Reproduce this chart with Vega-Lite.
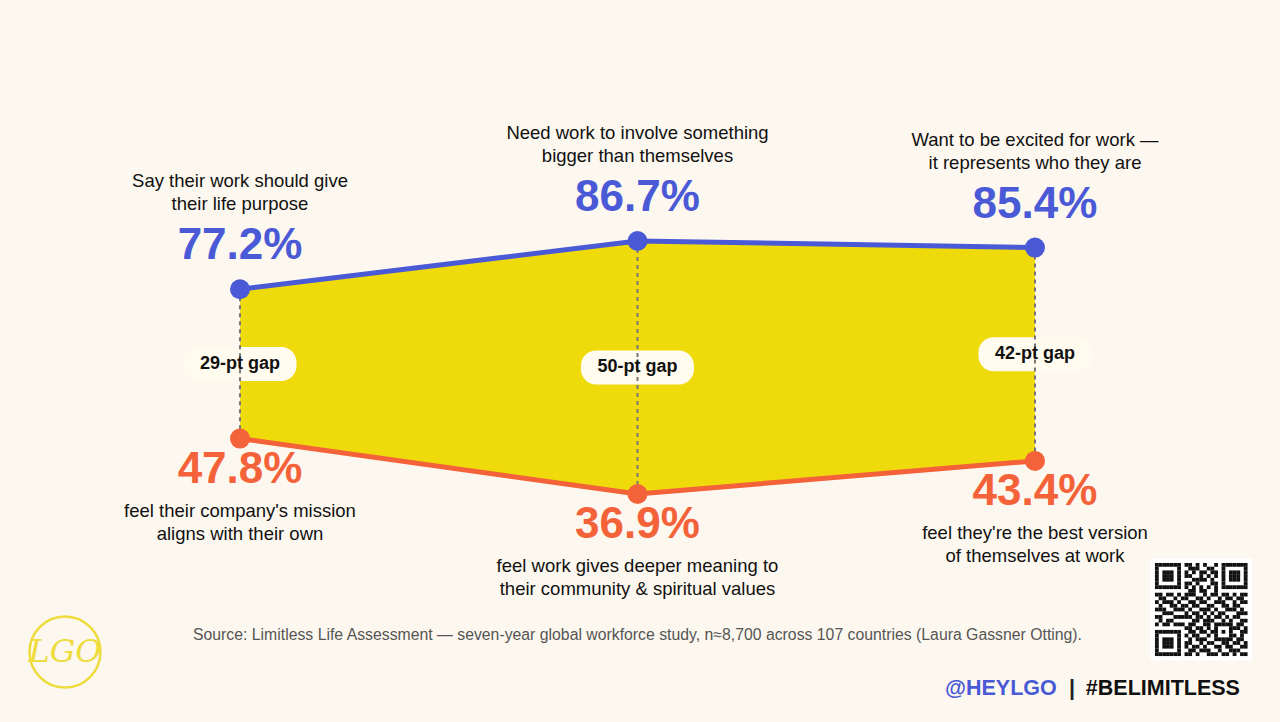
{
  "$schema": "https://vega.github.io/schema/vega-lite/v6.json",
  "width": 1280,
  "height": 722,
  "autosize": {"type": "fit", "contains": "padding"},
  "padding": 0,
  "background": "#fdf8ef",
  "config": {"view": {"stroke": null}, "font": "Liberation Sans", "axis": {"disable": true}, "legend": {"disable": true}},
  "datasets": {
    "main": [
      {"i": 1, "top": 77.2, "bot": 47.8, "mid": 62.5, "topPct": "77.2%", "botPct": "47.8%", "gap": "29-pt gap", "topLabel": "Say their work should give\ntheir life purpose", "botLabel": "feel their company's mission\naligns with their own"},
      {"i": 2, "top": 86.7, "bot": 36.9, "mid": 61.8, "topPct": "86.7%", "botPct": "36.9%", "gap": "50-pt gap", "topLabel": "Need work to involve something\nbigger than themselves", "botLabel": "feel work gives deeper meaning to\ntheir community & spiritual values"},
      {"i": 3, "top": 85.4, "bot": 43.4, "mid": 64.4, "topPct": "85.4%", "botPct": "43.4%", "gap": "42-pt gap", "topLabel": "Want to be excited for work —\nit represents who they are", "botLabel": "feel they're the best version\nof themselves at work"}
    ],
    "notes": [
      {"t": "Source: Limitless Life Assessment — seven-year global workforce study, n≈8,700 across 107 countries (Laura Gassner Otting)."}
    ],
    "qr": [
      {"r": 0, "c": [0,1,2,3,4,5,6,8,9,11,13,16,18,19,20,21,22,23,24]},
      {"r": 1, "c": [0,6,9,10,11,14,15,18,24]},
      {"r": 2, "c": [0,2,3,4,6,8,10,12,13,15,16,18,20,21,22,24]},
      {"r": 3, "c": [0,2,3,4,6,8,9,12,14,16,18,20,21,22,24]},
      {"r": 4, "c": [0,2,3,4,6,10,11,12,13,15,18,20,21,22,24]},
      {"r": 5, "c": [0,6,8,9,11,15,16,18,24]},
      {"r": 6, "c": [0,1,2,3,4,5,6,8,10,12,14,16,18,19,20,21,22,23,24]},
      {"r": 7, "c": [9,10,12,13,16]},
      {"r": 8, "c": [0,1,3,4,6,8,9,10,13,15,16,18,19,21,23,24]},
      {"r": 9, "c": [1,2,5,7,8,11,12,14,17,19,20,22,23]},
      {"r": 10, "c": [0,2,3,4,6,9,10,12,13,16,17,18,21,23,24]},
      {"r": 11, "c": [1,4,5,7,8,10,11,14,15,18,19,21,22]},
      {"r": 12, "c": [0,1,2,5,6,7,9,12,13,14,16,19,20,21,23]},
      {"r": 13, "c": [2,3,4,8,10,11,13,15,17,18,22,23,24]},
      {"r": 14, "c": [0,1,5,6,7,8,9,11,12,14,16,17,19,21,22]},
      {"r": 15, "c": [1,3,4,10,11,13,14,15,18,20,23,24]},
      {"r": 16, "c": [0,2,3,5,6,7,9,10,13,14,16,17,18,19,20,22,23]},
      {"r": 17, "c": [8,9,11,12,14,16,20,21,22,24]},
      {"r": 18, "c": [0,1,2,3,4,5,6,9,10,12,13,15,16,18,20,23,24]},
      {"r": 19, "c": [0,6,8,10,11,14,16,20,21,23]},
      {"r": 20, "c": [0,2,3,4,6,9,11,12,13,16,17,18,19,20,22,23]},
      {"r": 21, "c": [0,2,3,4,6,8,9,12,14,15,18,19,21,22,24]},
      {"r": 22, "c": [0,2,3,4,6,8,10,11,13,16,17,19,20,23,24]},
      {"r": 23, "c": [0,6,9,10,12,13,14,17,20,21,22]},
      {"r": 24, "c": [0,1,2,3,4,5,6,8,9,11,14,15,16,18,19,21,23,24]}
    ]
  },
  "layer": [
    {
      "data": {"name": "main"},
      "encoding": {
        "x": {"field": "i", "type": "quantitative", "scale": {"domain": [0.3962, 3.6164], "nice": false, "zero": false}, "axis": null}
      },
      "layer": [
        {
          "mark": {"type": "area", "color": "#efdb0c", "opacity": 1},
          "encoding": {
            "y": {"field": "top", "type": "quantitative", "scale": {"domain": [-7.99, 134.13], "nice": false, "zero": false}, "axis": null},
            "y2": {"field": "bot"}
          }
        },
        {
          "mark": {"type": "point", "shape": "M -0.735 -0.301 L 0.735 -0.301 A 0.265 0.265 0 0 1 1 -0.036 L 1 0.036 A 0.265 0.265 0 0 1 0.735 0.301 L -0.735 0.301 A 0.265 0.265 0 0 1 -1 0.036 L -1 -0.036 A 0.265 0.265 0 0 1 -0.735 -0.301 Z", "size": 12769, "filled": true, "color": "#fffbee", "opacity": 1, "strokeWidth": 0},
          "encoding": {
            "y": {"field": "mid", "type": "quantitative", "scale": {"domain": [-7.99, 134.13], "nice": false, "zero": false}, "axis": null}
          }
        },
        {
          "mark": {"type": "rule", "color": "#777777", "strokeDash": [4, 4], "strokeWidth": 2},
          "encoding": {
            "y": {"field": "top", "type": "quantitative", "scale": {"domain": [-7.99, 134.13], "nice": false, "zero": false}, "axis": null},
            "y2": {"field": "bot"}
          }
        },
        {
          "mark": {"type": "text", "fontSize": 18, "fontWeight": "bold", "color": "#111111", "baseline": "middle", "align": "center"},
          "encoding": {
            "y": {"field": "mid", "type": "quantitative", "scale": {"domain": [-7.99, 134.13], "nice": false, "zero": false}, "axis": null},
            "text": {"field": "gap"}
          }
        },
        {
          "mark": {"type": "line", "color": "#4a5ad6", "strokeWidth": 5},
          "encoding": {
            "y": {"field": "top", "type": "quantitative", "scale": {"domain": [-7.99, 134.13], "nice": false, "zero": false}, "axis": null}
          }
        },
        {
          "mark": {"type": "line", "color": "#f4623a", "strokeWidth": 5},
          "encoding": {
            "y": {"field": "bot", "type": "quantitative", "scale": {"domain": [-7.99, 134.13], "nice": false, "zero": false}, "axis": null}
          }
        },
        {
          "mark": {"type": "point", "shape": "circle", "size": 400, "filled": true, "color": "#4a5ad6", "opacity": 1},
          "encoding": {
            "y": {"field": "top", "type": "quantitative", "scale": {"domain": [-7.99, 134.13], "nice": false, "zero": false}, "axis": null}
          }
        },
        {
          "mark": {"type": "point", "shape": "circle", "size": 400, "filled": true, "color": "#f4623a", "opacity": 1},
          "encoding": {
            "y": {"field": "bot", "type": "quantitative", "scale": {"domain": [-7.99, 134.13], "nice": false, "zero": false}, "axis": null}
          }
        },
        {
          "mark": {"type": "text", "fontSize": 44, "fontWeight": "bold", "color": "#4a5ad6", "baseline": "middle", "align": "center", "dy": -43},
          "encoding": {
            "y": {"field": "top", "type": "quantitative", "scale": {"domain": [-7.99, 134.13], "nice": false, "zero": false}, "axis": null},
            "text": {"field": "topPct"}
          }
        },
        {
          "mark": {"type": "text", "fontSize": 18.5, "color": "#111111", "baseline": "middle", "align": "center", "dy": -108, "lineBreak": "\n", "lineHeight": 23},
          "encoding": {
            "y": {"field": "top", "type": "quantitative", "scale": {"domain": [-7.99, 134.13], "nice": false, "zero": false}, "axis": null},
            "text": {"field": "topLabel"}
          }
        },
        {
          "mark": {"type": "text", "fontSize": 44, "fontWeight": "bold", "color": "#f4623a", "baseline": "middle", "align": "center", "dy": 31},
          "encoding": {
            "y": {"field": "bot", "type": "quantitative", "scale": {"domain": [-7.99, 134.13], "nice": false, "zero": false}, "axis": null},
            "text": {"field": "botPct"}
          }
        },
        {
          "mark": {"type": "text", "fontSize": 18.5, "color": "#111111", "baseline": "middle", "align": "center", "dy": 72, "lineBreak": "\n", "lineHeight": 23},
          "encoding": {
            "y": {"field": "bot", "type": "quantitative", "scale": {"domain": [-7.99, 134.13], "nice": false, "zero": false}, "axis": null},
            "text": {"field": "botLabel"}
          }
        }
      ]
    },
    {
      "data": {"name": "notes"},
      "layer": [
        {
          "mark": {"type": "text", "fontSize": 15.8, "color": "#555555", "baseline": "middle", "align": "center"},
          "encoding": {
            "x": {"datum": 2.0, "type": "quantitative", "scale": {"domain": [0.3962, 3.6164], "nice": false, "zero": false}, "axis": null},
            "y": {"datum": 9.13, "type": "quantitative", "scale": {"domain": [-7.99, 134.13], "nice": false, "zero": false}, "axis": null},
            "text": {"field": "t"}
          }
        },
        {
          "mark": {"type": "text", "fontSize": 21.5, "fontWeight": "bold", "color": "#4a5ad6", "baseline": "middle", "align": "left", "text": "@HEYLGO"},
          "encoding": {
            "x": {"datum": 2.7736, "type": "quantitative"},
            "y": {"datum": -1.5, "type": "quantitative"}
          }
        },
        {
          "mark": {"type": "text", "fontSize": 21.5, "fontWeight": "bold", "color": "#222222", "baseline": "middle", "align": "center", "text": "|"},
          "encoding": {
            "x": {"datum": 3.0931, "type": "quantitative"},
            "y": {"datum": -1.5, "type": "quantitative"}
          }
        },
        {
          "mark": {"type": "text", "fontSize": 21.5, "fontWeight": "bold", "color": "#111111", "baseline": "middle", "align": "right", "text": "#BELIMITLESS"},
          "encoding": {
            "x": {"datum": 3.5157, "type": "quantitative"},
            "y": {"datum": -1.5, "type": "quantitative"}
          }
        },
        {
          "mark": {"type": "point", "shape": "circle", "size": 5027, "filled": false, "stroke": "#eedc3c", "strokeWidth": 2.5, "opacity": 1},
          "encoding": {
            "x": {"datum": 0.5597, "type": "quantitative"},
            "y": {"datum": 5.79, "type": "quantitative"}
          }
        },
        {
          "mark": {"type": "text", "fontSize": 32, "font": "DejaVu Serif", "fontStyle": "italic", "color": "#eedc3c", "baseline": "middle", "align": "center", "text": "LGO"},
          "encoding": {
            "x": {"datum": 0.5597, "type": "quantitative"},
            "y": {"datum": 5.79, "type": "quantitative"}
          }
        }
      ]
    },
    {
      "layer": [
        {
          "data": {"values": [{"k": 1}]},
          "mark": {"type": "point", "shape": "square", "size": 10404, "filled": true, "color": "#ffffff", "opacity": 1, "strokeWidth": 0},
          "encoding": {
            "x": {"datum": 12, "type": "quantitative", "scale": {"domain": [-312.66, 33.28], "nice": false, "zero": false}, "axis": null},
            "y": {"datum": 12, "type": "quantitative", "scale": {"domain": [-151.85, 42.24], "reverse": true, "nice": false, "zero": false}, "axis": null}
          }
        },
        {
          "data": {"name": "qr"},
          "transform": [{"flatten": ["c"]}],
          "mark": {"type": "point", "shape": "square", "size": 14.5, "filled": true, "color": "#111111", "opacity": 1, "strokeWidth": 0},
          "encoding": {
            "x": {"field": "c", "type": "quantitative", "scale": {"domain": [-312.66, 33.28], "nice": false, "zero": false}, "axis": null},
            "y": {"field": "r", "type": "quantitative", "scale": {"domain": [-151.85, 42.24], "reverse": true, "nice": false, "zero": false}, "axis": null}
          }
        }
      ]
    }
  ],
  "resolve": {"scale": {"x": "independent", "y": "independent"}}
}
